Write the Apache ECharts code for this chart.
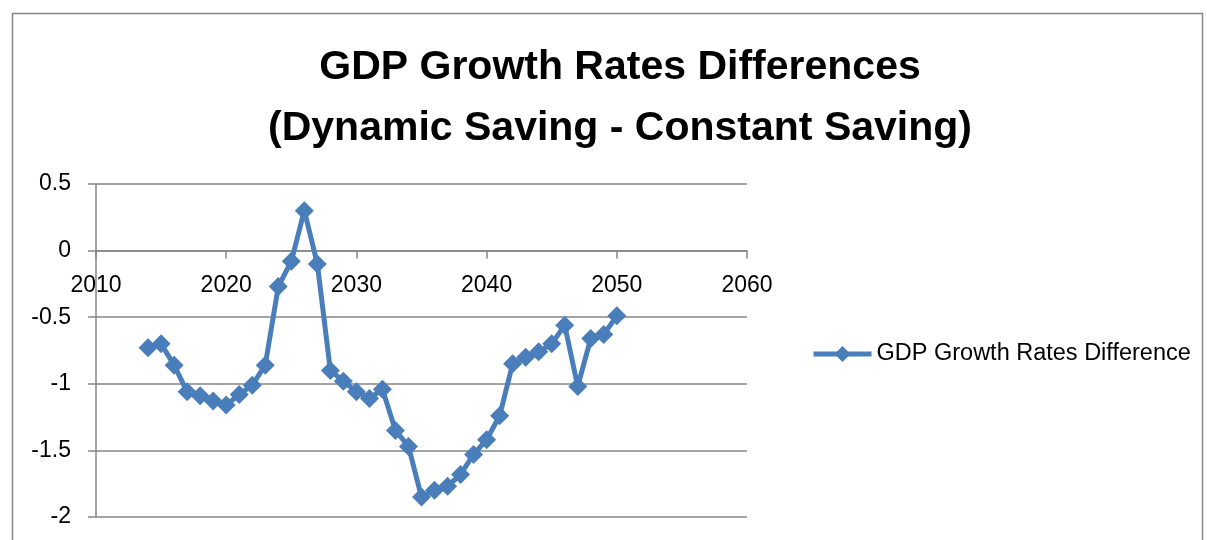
<!DOCTYPE html>
<html>
<head>
<meta charset="utf-8">
<script src="https://cdn.jsdelivr.net/npm/echarts@6/dist/echarts.min.js"></script>
<style>
  html, body { margin: 0; padding: 0; background: #ffffff; }
  #chart { width: 1207px; height: 540px; }
</style>
</head>
<body>
<div id="chart"></div>
<script>
// Annual difference in GDP growth rates (dynamic saving minus constant saving)
const years = [2014, 2015, 2016, 2017, 2018, 2019, 2020, 2021, 2022, 2023,
               2024, 2025, 2026, 2027, 2028, 2029, 2030, 2031, 2032, 2033,
               2034, 2035, 2036, 2037, 2038, 2039, 2040, 2041, 2042, 2043,
               2044, 2045, 2046, 2047, 2048, 2049, 2050];
const growthDiff = [-0.73, -0.70, -0.86, -1.06, -1.09, -1.13, -1.16, -1.08, -1.01, -0.86,
                    -0.27, -0.08, 0.30, -0.10, -0.90, -0.98, -1.06, -1.11, -1.04, -1.35,
                    -1.47, -1.85, -1.80, -1.77, -1.68, -1.53, -1.42, -1.24, -0.85, -0.80,
                    -0.76, -0.70, -0.56, -1.02, -0.66, -0.63, -0.49];
const xTicks = { min: 2010, max: 2060, interval: 10 };
const yTicks = { min: -2, max: 0.5, interval: 0.5 };
const seriesName = 'GDP Growth Rates Difference';
const titleLines = ['GDP Growth Rates Differences', '(Dynamic Saving - Constant Saving)'];

const points = years.map((y, i) => [y, growthDiff[i]]);
const FONT = "'Liberation Sans', Arial, sans-serif";
const GRID_GRAY = '#868686';
const BLUE = '#4A7EBB';

// Plot rectangle
const GRID = { left: 96, top: 184, right: 460, bottom: 23 };
const plotHeight = 540 - GRID.top - GRID.bottom;
// Lift the horizontal axis (line, ticks and labels) up to the zero level
const zeroOffset = -plotHeight * (0 - yTicks.min) / (yTicks.max - yTicks.min);

const chart = echarts.init(document.getElementById('chart'), null, { renderer: 'canvas' });
chart.setOption({
  backgroundColor: '#ffffff',
  animation: false,
  title: {
    text: titleLines.join('\n'),
    left: 615,
    top: 32,
    textAlign: 'center',
    textStyle: {
      fontFamily: FONT,
      fontSize: 41,
      fontWeight: 'bold',
      color: '#000000',
      lineHeight: 61
    }
  },
  legend: {
    data: [seriesName],
    left: 806,
    top: 337,
    itemWidth: 58,
    itemHeight: 20,
    itemGap: 4,
    lineStyle: { width: 5 },
    textStyle: { fontFamily: FONT, fontSize: 23.5, color: '#000000' }
  },
  grid: Object.assign({ containLabel: false, outerBoundsMode: 'none' }, GRID),
  xAxis: {
    type: 'value',
    min: xTicks.min,
    max: xTicks.max,
    interval: xTicks.interval,
    offset: zeroOffset,
    axisLine: { onZero: false, lineStyle: { color: GRID_GRAY, width: 1.5 } },
    axisTick: { show: true, length: 8, lineStyle: { color: GRID_GRAY, width: 1.5 } },
    axisLabel: { fontFamily: FONT, fontSize: 23, color: '#000000', margin: 24,
                 formatter: v => String(v) },
    splitLine: { show: false }
  },
  yAxis: {
    type: 'value',
    min: yTicks.min,
    max: yTicks.max,
    interval: yTicks.interval,
    axisLine: { show: true, onZero: false, lineStyle: { color: GRID_GRAY, width: 1.5 } },
    axisTick: { show: true, length: 8, lineStyle: { color: GRID_GRAY, width: 1.5 } },
    axisLabel: { fontFamily: FONT, fontSize: 23, color: '#000000', margin: 25 },
    splitLine: { show: true, lineStyle: { color: GRID_GRAY, width: 1.5 } }
  },
  series: [{
    name: seriesName,
    type: 'line',
    data: points,
    symbol: 'diamond',
    symbolSize: 19,
    showAllSymbol: true,
    lineStyle: { color: BLUE, width: 5 },
    itemStyle: { color: BLUE, borderWidth: 0 },
    emphasis: { disabled: true }
  }],
  graphic: [{
    type: 'rect',
    shape: { x: 12.5, y: 13.5, width: 1190, height: 600 },
    style: { fill: null, stroke: GRID_GRAY, lineWidth: 1.5 },
    silent: true,
    z: -1
  }]
});
</script>
</body>
</html>
